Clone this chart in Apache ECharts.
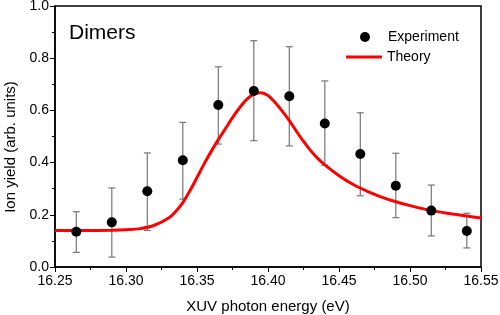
<!DOCTYPE html>
<html>
<head>
<meta charset="utf-8">
<script src="https://cdn.jsdelivr.net/npm/echarts@6/dist/echarts.min.js"></script>
<style>html,body{margin:0;padding:0;background:#fff}#c{width:500px;height:315px}</style>
</head>
<body>
<div id="c"></div>
<script>
const expX = [16.265, 16.29, 16.315, 16.34, 16.365, 16.39, 16.415, 16.44, 16.465, 16.49, 16.515, 16.54];
const expY = [0.135, 0.171, 0.29, 0.409, 0.621, 0.674, 0.654, 0.55, 0.433, 0.311, 0.216, 0.138];
const errLow = [0.056, 0.038, 0.14, 0.26, 0.471, 0.484, 0.464, 0.39, 0.273, 0.189, 0.119, 0.073];
const errHigh = [0.212, 0.303, 0.437, 0.554, 0.767, 0.867, 0.844, 0.713, 0.591, 0.436, 0.314, 0.206];

const theoryX = [16.25, 16.27, 16.29, 16.30, 16.31, 16.32, 16.33, 16.335, 16.34, 16.345, 16.35, 16.355, 16.36, 16.365, 16.37, 16.375, 16.38, 16.385, 16.39, 16.395, 16.40, 16.405, 16.41, 16.415, 16.42, 16.425, 16.43, 16.435, 16.44, 16.45, 16.46, 16.47, 16.48, 16.49, 16.50, 16.515, 16.53, 16.54, 16.55];
const theoryY = [0.14, 0.14, 0.141, 0.143, 0.147, 0.16, 0.188, 0.213, 0.247, 0.292, 0.343, 0.395, 0.443, 0.488, 0.53, 0.572, 0.61, 0.642, 0.662, 0.668, 0.657, 0.63, 0.597, 0.561, 0.52, 0.481, 0.446, 0.416, 0.391, 0.35, 0.316, 0.29, 0.268, 0.25, 0.235, 0.216, 0.203, 0.195, 0.188];

const xTicks = {min: 16.25, max: 16.55, interval: 0.05};
const yTicks = {min: 0, max: 1.0, interval: 0.2};

const FONT = 'Liberation Sans, Arial, sans-serif';
const chart = echarts.init(document.getElementById('c'), null, {renderer: 'canvas'});

const errData = expX.map((x, i) => [x, errLow[i], errHigh[i]]);
const scatterData = expX.map((x, i) => [x, expY[i]]);
const theoryData = theoryX.map((x, i) => [x, theoryY[i]]);

const legendText = {fontFamily: FONT, fontSize: 14, color: '#000', lineHeight: 14};

chart.setOption({
  animation: false,
  backgroundColor: '#fff',
  grid: {left: 55, right: 19, top: 6, bottom: 48, containLabel: false, outerBoundsMode: 'none', show: true, borderColor: '#000', borderWidth: 1.5, backgroundColor: 'transparent'},
  graphic: [{
    type: 'text', left: 69, top: 23,
    style: {text: 'Dimers', font: '21px ' + FONT, fill: '#000'}
  }, {
    type: 'text', x: 11, y: 147, rotation: Math.PI / 2,
    style: {text: 'Ion yield (arb. units)', font: '15px ' + FONT, fill: '#000', align: 'center', verticalAlign: 'middle'}
  }],
  legend: [{
    orient: 'vertical', left: 355, top: 25,
    itemWidth: 36, itemHeight: 10,
    textStyle: legendText,
    data: [{name: 'Experiment', icon: 'circle'}]
  }, {
    orient: 'vertical', left: 341, top: 45,
    itemWidth: 36, itemHeight: 3,
    textStyle: legendText,
    data: [{name: 'Theory', icon: 'rect'}]
  }],
  xAxis: {
    type: 'value', min: xTicks.min, max: xTicks.max, interval: xTicks.interval,
    name: 'XUV photon energy (eV)', nameLocation: 'middle', nameGap: 32,
    nameTextStyle: {fontFamily: FONT, fontSize: 15, color: '#000'},
    axisLine: {lineStyle: {color: '#000', width: 1.5}},
    axisTick: {show: true, length: 5, inside: false, lineStyle: {color: '#000', width: 1}},
    minorTick: {show: true, splitNumber: 2, length: 3, lineStyle: {color: '#000', width: 1}},
    splitLine: {show: false},
    axisLabel: {fontFamily: FONT, fontSize: 14, color: '#000', margin: 7, formatter: v => v.toFixed(2)}
  },
  yAxis: {
    type: 'value', min: yTicks.min, max: yTicks.max, interval: yTicks.interval,
    axisLine: {show: true, lineStyle: {color: '#000', width: 1.5}},
    axisTick: {show: true, length: 5, lineStyle: {color: '#000', width: 1}},
    minorTick: {show: true, splitNumber: 2, length: 3, lineStyle: {color: '#000', width: 1}},
    splitLine: {show: false},
    axisLabel: {fontFamily: FONT, fontSize: 14, color: '#000', margin: 6, formatter: v => v.toFixed(1)}
  },
  series: [
    {
      type: 'custom', name: 'err', data: errData, z: 2,
      renderItem: function (params, api) {
        const x = api.value(0);
        const lo = api.coord([x, api.value(1)]);
        const hi = api.coord([x, api.value(2)]);
        const w = 3.5;
        const st = {stroke: '#777', lineWidth: 1.2};
        return {type: 'group', children: [
          {type: 'line', shape: {x1: lo[0], y1: lo[1], x2: hi[0], y2: hi[1]}, style: st},
          {type: 'line', shape: {x1: lo[0] - w, y1: lo[1], x2: lo[0] + w, y2: lo[1]}, style: st},
          {type: 'line', shape: {x1: hi[0] - w, y1: hi[1], x2: hi[0] + w, y2: hi[1]}, style: st}
        ]};
      }
    },
    {
      type: 'line', name: 'Theory', data: theoryData, smooth: 0.3, symbol: 'none', z: 3,
      lineStyle: {color: '#ff0000', width: 3}, itemStyle: {color: '#ff0000'}
    },
    {
      type: 'scatter', name: 'Experiment', data: scatterData, symbol: 'circle', symbolSize: 10, z: 4,
      itemStyle: {color: '#000', opacity: 1}
    }
  ]
});
</script>
</body>
</html>
